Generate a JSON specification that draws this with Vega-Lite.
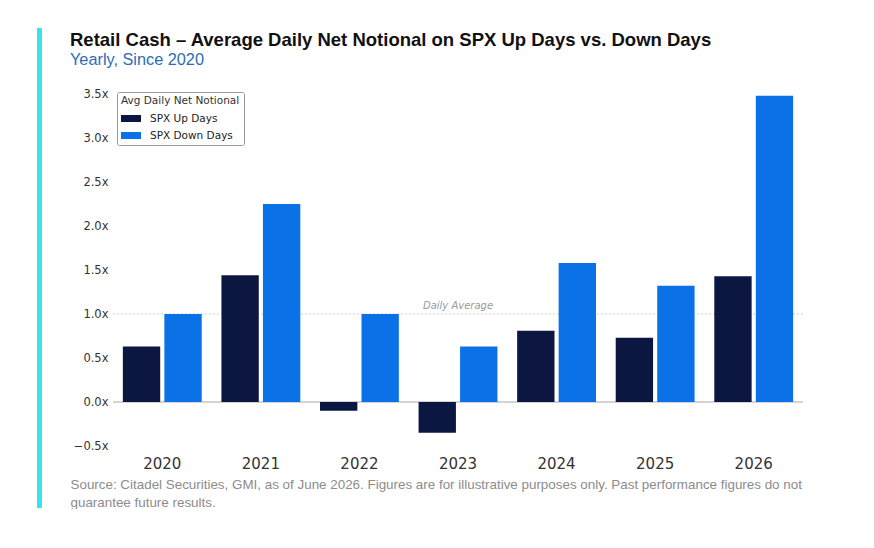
{
  "$schema": "https://vega.github.io/schema/vega-lite/v6.json",
  "background": "white",
  "padding": {"left": 37, "top": 28, "right": 0, "bottom": 0},
  "spacing": 28,
  "config": {"view": {"stroke": null}, "font": "DejaVu Sans"},
  "resolve": {"legend": {"color": "independent"}},
  "hconcat": [
    {
      "width": 5,
      "height": 480,
      "view": {"fill": "#3ce2e8", "stroke": null},
      "data": {"values": [{}]},
      "mark": {"type": "text"},
      "encoding": {"text": {"value": ""}}
    },
    {
      "width": 690,
      "height": 418,
      "title": {
        "text": "Retail Cash – Average Daily Net Notional on SPX Up Days vs. Down Days",
        "subtitle": "Yearly, Since 2020",
        "anchor": "start",
        "frame": "bounds",
        "font": "Liberation Sans",
        "fontSize": 18.5,
        "fontWeight": "bold",
        "color": "#111111",
        "subtitleFont": "Liberation Sans",
        "subtitleFontSize": 16.3,
        "subtitleColor": "#2e6cb5",
        "subtitlePadding": 2,
        "offset": -40
      },
      "layer": [
        {
          "data": {"values": [{"value": 1}]},
          "mark": {"type": "rule", "color": "#d0d0d0", "strokeWidth": 1, "strokeDash": [2, 2]},
          "encoding": {"y": {"field": "value", "type": "quantitative"}}
        },
        {
          "data": {"values": [{"value": 0}]},
          "mark": {"type": "rule", "color": "#c6c6c6", "strokeWidth": 1.5},
          "encoding": {"y": {"field": "value", "type": "quantitative"}}
        },
        {
          "data": {
            "values": [
              {"year": "2020", "series": "SPX Up Days", "value": 0.63},
              {"year": "2020", "series": "SPX Down Days", "value": 1.0},
              {"year": "2021", "series": "SPX Up Days", "value": 1.44},
              {"year": "2021", "series": "SPX Down Days", "value": 2.25},
              {"year": "2022", "series": "SPX Up Days", "value": -0.1},
              {"year": "2022", "series": "SPX Down Days", "value": 1.0},
              {"year": "2023", "series": "SPX Up Days", "value": -0.35},
              {"year": "2023", "series": "SPX Down Days", "value": 0.63},
              {"year": "2024", "series": "SPX Up Days", "value": 0.81},
              {"year": "2024", "series": "SPX Down Days", "value": 1.58},
              {"year": "2025", "series": "SPX Up Days", "value": 0.73},
              {"year": "2025", "series": "SPX Down Days", "value": 1.32},
              {"year": "2026", "series": "SPX Up Days", "value": 1.43},
              {"year": "2026", "series": "SPX Down Days", "value": 3.48}
            ]
          },
          "mark": {"type": "bar"},
          "encoding": {
            "x": {
              "field": "year",
              "type": "ordinal",
              "scale": {"paddingInner": 0.2, "paddingOuter": 0.1},
              "axis": {
                "labelAngle": 0,
                "labelFontSize": 15,
                "labelColor": "#333333",
                "labelPadding": 10,
                "domain": false,
                "ticks": false,
                "title": [
                  "Source: Citadel Securities, GMI, as of June 2026. Figures are for illustrative purposes only. Past performance figures do not",
                  "guarantee future results."
                ],
                "titleFont": "Liberation Sans",
                "titleFontSize": 13.4,
                "titleFontWeight": "normal",
                "titleColor": "#8c8c8c",
                "titleAlign": "left",
                "titleAnchor": "start",
                "titleBaseline": "top",
                "titleX": -43,
                "titlePadding": 6,
                "titleLineHeight": 18
              }
            },
            "xOffset": {
              "field": "series",
              "type": "nominal",
              "scale": {"domain": ["SPX Up Days", "SPX Down Days"], "paddingInner": 0.1}
            },
            "y": {
              "field": "value",
              "type": "quantitative",
              "scale": {"domain": [-0.5, 4.25], "nice": false, "zero": false},
              "axis": {
                "values": [-0.5, 0, 0.5, 1, 1.5, 2, 2.5, 3, 3.5],
                "labelExpr": "format(datum.value, '.1f') + 'x'",
                "grid": false,
                "domain": false,
                "ticks": false,
                "labelFontSize": 11.5,
                "labelColor": "#333333",
                "labelPadding": 5,
                "title": null
              }
            },
            "color": {
              "field": "series",
              "type": "nominal",
              "scale": {"domain": ["SPX Up Days", "SPX Down Days"], "range": ["#0b1740", "#0a72e6"]},
              "legend": {
                "orient": "none",
                "legendX": 4,
                "legendY": 64,
                "title": "Avg Daily Net Notional",
                "titleFontSize": 10.5,
                "titleFontWeight": "normal",
                "titleColor": "#333333",
                "titlePadding": 2,
                "labelFontSize": 10.5,
                "labelColor": "#222222",
                "labelOffset": 9,
                "symbolType": "M-1,-0.35H1V0.35H-1Z",
                "symbolSize": 400,
                "symbolStrokeWidth": 0,
                "strokeColor": "#999999",
                "fillColor": "white",
                "padding": 4,
                "cornerRadius": 2,
                "rowPadding": 1
              }
            }
          }
        },
        {
          "data": {"values": [{"year": "2023", "value": 1, "label": "Daily Average"}]},
          "mark": {"type": "text", "fontStyle": "italic", "fontSize": 10, "color": "#9a9a9a", "baseline": "bottom", "dy": -3},
          "encoding": {
            "x": {"field": "year", "type": "ordinal"},
            "y": {"field": "value", "type": "quantitative"},
            "text": {"field": "label"}
          }
        }
      ]
    }
  ]
}
